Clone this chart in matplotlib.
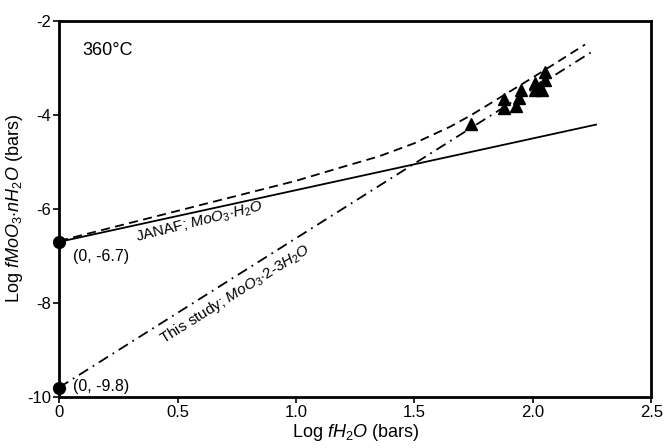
import matplotlib
matplotlib.use('Agg')
import matplotlib.pyplot as plt

plt.rcParams['font.family'] = ['Liberation Sans', 'DejaVu Sans']
plt.rcParams['mathtext.fontset'] = 'custom'
plt.rcParams['mathtext.rm'] = 'Liberation Sans'
plt.rcParams['mathtext.it'] = 'Liberation Sans:italic'

# JANAF MoO3.H2O line (solid)
janaf_x = [0.0, 2.27]
janaf_y = [-6.7, -4.2]

# this study MoO3.2-3H2O line (dash-dot)
study_x = [0.0, 2.25]
study_y = [-9.8, -2.65]

# dashed curve
dash_x = [0.0, 0.5, 1.0, 1.2, 1.35, 1.5, 1.65, 1.74, 2.0, 2.22]
dash_y = [-6.68, -6.04, -5.4, -5.1, -4.88, -4.6, -4.25, -4.0, -3.2, -2.5]

# measured points (triangles)
meas_x = [1.74, 1.88, 1.88, 1.93, 1.94, 1.95, 2.01, 2.01, 2.03, 2.04, 2.05, 2.05]
meas_y = [-4.19, -3.85, -3.66, -3.81, -3.64, -3.47, -3.47, -3.32, -3.40, -3.47, -3.26, -3.09]

# intercepts
int_x = [0.0, 0.0]
int_y = [-6.7, -9.8]
int_labels = ['(0, -6.7)', '(0, -9.8)']

xticks = [0, 0.5, 1.0, 1.5, 2.0, 2.5]
xticklabels = ['0', '0.5', '1.0', '1.5', '2.0', '2.5']
yticks = [-10, -8, -6, -4, -2]
yticklabels = ['-10', '-8', '-6', '-4', '-2']

fig = plt.figure(figsize=(6.64, 4.48), dpi=100)
ax = fig.add_axes([0.089, 0.114, 0.892, 0.839])

ax.plot(janaf_x, janaf_y, color='black', lw=1.3, solid_capstyle='butt')
ax.plot(study_x, study_y, color='black', lw=1.3, dashes=[6, 3, 1, 3])
ax.plot(dash_x, dash_y, color='black', lw=1.3, dashes=[5, 3])
ax.plot(meas_x, meas_y, '^', color='black', ms=9, lw=0)
ax.plot(int_x, int_y, 'o', color='black', ms=8.5, clip_on=False, zorder=5)

ax.text(0.06, int_y[0] - 0.15, int_labels[0], fontsize=11.5, va='top', ha='left')
ax.text(0.06, int_y[1] + 0.03, int_labels[1], fontsize=11.5, va='center', ha='left')

ax.text(0.33, -6.7, r'JANAF; $\mathit{MoO_3}$$\cdot$$\mathit{H_2O}$', fontsize=11,
        rotation=14, rotation_mode='anchor', ha='left', va='baseline')
ax.text(0.44, -8.86, r'This study; $\mathit{MoO_3}$$\cdot$2-3$\mathit{H_2O}$', fontsize=11,
        rotation=32, rotation_mode='anchor', ha='left', va='baseline')

ax.text(0.1, -2.72, '360°C', fontsize=13, ha='left', va='baseline')

ax.set_xlim(0, 2.5)
ax.set_ylim(-10, -2)
ax.set_xticks(xticks)
ax.set_xticklabels(xticklabels)
ax.set_yticks(yticks)
ax.set_yticklabels(yticklabels)
ax.tick_params(direction='out', length=4, width=1.2, labelsize=12, pad=2)

for s in ax.spines.values():
    s.set_linewidth(2.0)

ax.set_xlabel(r'Log $\mathit{fH_2O}$ (bars)', fontsize=13, labelpad=1)
ax.set_ylabel(r'Log $\mathit{fMoO_3}$$\cdot$$\mathit{nH_2O}$ (bars)', fontsize=13, labelpad=1)

fig.savefig('out.png', dpi=100)
